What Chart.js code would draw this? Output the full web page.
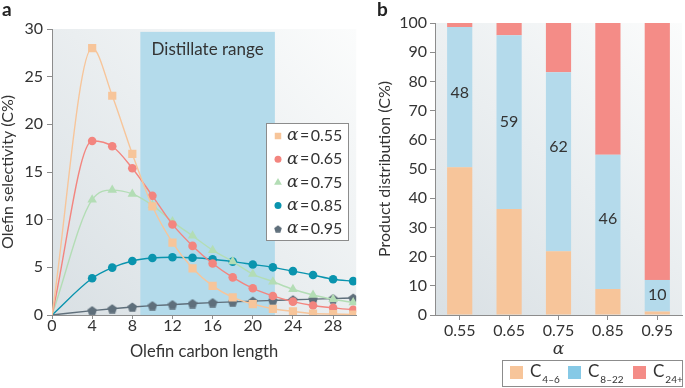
<!DOCTYPE html>
<html>
<head>
<meta charset="utf-8">
<script src="https://cdn.jsdelivr.net/npm/chart.js@4.4.1/dist/chart.umd.min.js"></script>
<style>
  html, body { margin: 0; padding: 0; background: #fff; }
  #wrap { position: relative; width: 685px; height: 388px; }
  #boxA { position: absolute; left: 0; top: 0; width: 362px; height: 388px; }
  #boxB { position: absolute; left: 362px; top: 0; width: 323px; height: 388px; }
</style>
</head>
<body>
<div id="wrap">
  <div id="boxA"><canvas id="chartA"></canvas></div>
  <div id="boxB"><canvas id="chartB"></canvas></div>
</div>
<script>
'use strict';

// panel a: olefin selectivity (C%) vs carbon length
const carbonLength = [0, 4, 6, 8, 10, 12, 14, 16, 18, 20, 22, 24, 26, 28, 30];
const sel055 = [0, 28.0, 23.0, 16.9, 11.4, 7.6, 4.9, 3.05, 1.85, 1.15, 0.65, 0.38, 0.15, 0.1, 0.05];
const sel065 = [0, 18.25, 17.7, 15.4, 12.5, 9.5, 7.25, 5.4, 3.95, 2.8, 2.0, 1.4, 1.0, 0.75, 0.55];
const sel075 = [0, 12.1, 13.1, 12.7, 11.5, 9.8, 8.3, 6.8, 5.6, 4.3, 3.5, 2.7, 2.1, 1.65, 1.3];
const sel085 = [0, 3.85, 4.97, 5.67, 5.98, 6.05, 6.0, 5.85, 5.6, 5.3, 5.0, 4.6, 4.2, 3.75, 3.55];
const sel095 = [0, 0.46, 0.66, 0.84, 0.98, 1.09, 1.2, 1.3, 1.38, 1.46, 1.53, 1.6, 1.66, 1.72, 1.78];
const distillateRange = [8.8, 22.2];

// panel b: product distribution (C%) per alpha
const alphaLabels = ['0.55', '0.65', '0.75', '0.85', '0.95'];
const c4to6 = [50.6, 36.3, 21.8, 8.9, 1.2];
const c8to22 = [48, 59.5, 61.3, 46, 10.8];
const c24plus = [1.4, 4.2, 16.9, 45.1, 88];
const barLabels = ['48', '59', '62', '46', '10'];
const barLabelAt = [76, 66, 57.5, 33, 7];

const textColor = '#333';
const axisColor = '#8c8c8c';
const family = 'Lato, "Open Sans", sans-serif';

function pentagon(color, size) {
  const c = document.createElement('canvas');
  c.width = size; c.height = size;
  const g = c.getContext('2d');
  g.fillStyle = color;
  g.beginPath();
  for (let i = 0; i < 5; i++) {
    const a = -Math.PI / 2 + i * 2 * Math.PI / 5;
    const px = size / 2 + Math.cos(a) * size / 2;
    const py = size / 2 + 0.6 + Math.sin(a) * size / 2;
    if (i === 0) g.moveTo(px, py); else g.lineTo(px, py);
  }
  g.closePath();
  g.fill();
  return c;
}

const seriesA = [
  { label: '0.55', values: sel055, color: '#f7c59a', style: 'rect', radius: 5.8, legendStyle: 'rect', legendRadius: 4.6 },
  { label: '0.65', values: sel065, color: '#f3857f', style: 'circle', radius: 4.3, legendStyle: 'circle', legendRadius: 3.5 },
  { label: '0.75', values: sel075, color: '#b3ddb5', style: 'triangle', radius: 5.5, legendStyle: 'triangle', legendRadius: 4.5 },
  { label: '0.85', values: sel085, color: '#0a94ae', style: 'circle', radius: 4.3, legendStyle: 'circle', legendRadius: 3.5 },
  { label: '0.95', values: sel095, color: '#5f6f7b', style: pentagon('#5f6f7b', 10), radius: 4.5, legendStyle: pentagon('#5f6f7b', 8), legendRadius: 3.5 },
];

function drawAlpha(ctx, x, y, value) {
  ctx.textAlign = 'left';
  ctx.textBaseline = 'middle';
  ctx.fillStyle = textColor;
  ctx.font = 'italic 17px "DejaVu Serif", serif';
  ctx.fillText('α', x, y);
  let cx = x + ctx.measureText('α').width + 1.5;
  ctx.font = `16px ${family}`;
  ctx.fillText('=', cx, y);
  cx += ctx.measureText('=').width + 1.5;
  ctx.fillText(value, cx, y);
}

function plotBackground(ctx, a) {
  const g = ctx.createLinearGradient(a.left, a.bottom, a.right, a.top);
  g.addColorStop(0, '#d9e0e4');
  g.addColorStop(1, '#fbfcfc');
  ctx.fillStyle = g;
  ctx.fillRect(a.left, a.top, a.right - a.left, a.bottom - a.top);
}

const panelA = {
  id: 'panelA',
  beforeDraw(chart) {
    const { ctx, chartArea: a, scales: { x, y } } = chart;
    ctx.save();
    plotBackground(ctx, a);
    const x0 = x.getPixelForValue(distillateRange[0]);
    const x1 = x.getPixelForValue(distillateRange[1]);
    const yt = y.getPixelForValue(29.7);
    ctx.fillStyle = '#b4dbeb';
    ctx.fillRect(x0, yt, x1 - x0, a.bottom - yt);
    ctx.fillStyle = textColor;
    ctx.font = `17px ${family}`;
    ctx.textAlign = 'center';
    ctx.textBaseline = 'middle';
    ctx.fillText('Distillate range', (x0 + x1) / 2, y.getPixelForValue(27.9));
    ctx.restore();
  },
  afterDraw(chart) {
    const { ctx } = chart;
    ctx.save();
    ctx.fillStyle = '#fff';
    ctx.fillRect(267, 124, 82, 117);
    ctx.strokeStyle = axisColor;
    ctx.lineWidth = 1;
    ctx.strokeRect(266.5, 123.5, 82, 117);
    seriesA.forEach((s, i) => {
      const cy = 136 + i * 23.2;
      ctx.fillStyle = s.color;
      Chart.helpers.drawPoint(ctx, { pointStyle: s.legendStyle, radius: s.legendRadius, rotation: 0, borderWidth: 0 }, 278, cy);
      drawAlpha(ctx, 287, cy, s.label);
    });
    ctx.fillStyle = '#222';
    ctx.font = `bold 19px ${family}`;
    ctx.textAlign = 'left';
    ctx.textBaseline = 'top';
    ctx.fillText('a', 2, 0);
    ctx.restore();
  },
};

new Chart(document.getElementById('chartA'), {
  type: 'line',
  data: {
    datasets: seriesA.map(s => ({
      label: s.label,
      data: carbonLength.map((c, i) => ({ x: c, y: s.values[i] })),
      borderColor: s.color,
      backgroundColor: s.color,
      pointBackgroundColor: s.color,
      pointBorderWidth: 0,
      pointStyle: s.style,
      pointRadius: ctx => (ctx.dataIndex === 0 ? 0 : s.radius),
      borderWidth: 1.4,
      cubicInterpolationMode: 'monotone',
      fill: false,
    })),
  },
  options: {
    responsive: true,
    maintainAspectRatio: false,
    animation: false,
    layout: { padding: { left: 0, top: 29, right: 5, bottom: 26 } },
    plugins: { legend: { display: false }, tooltip: { enabled: false } },
    scales: {
      x: {
        type: 'linear',
        min: 0,
        max: 30.3,
        afterFit: s => { s.height = 47; },
        ticks: { stepSize: 4, includeBounds: false, color: textColor, padding: -1, maxRotation: 0,
                 font: { size: 16, family, lineHeight: 1 } },
        grid: { drawOnChartArea: false, tickLength: 4, color: axisColor },
        border: { color: axisColor },
        title: { display: true, text: 'Olefin carbon length', color: textColor, padding: 0,
                 font: { size: 16.5, family, lineHeight: 1.2 } },
      },
      y: {
        min: 0,
        max: 30,
        afterFit: s => { s.width = 52; },
        ticks: { stepSize: 5, color: textColor, padding: 4, font: { size: 16, family, lineHeight: 1 } },
        grid: { drawOnChartArea: false, tickLength: 5, color: axisColor },
        border: { color: axisColor },
        title: { display: true, text: 'Olefin selectivity (C%)', color: textColor, padding: 0,
                 font: { size: 16, family, lineHeight: 1 } },
      },
    },
  },
  plugins: [panelA],
});

const legendB = [
  { base: 'C', sub: '4–6', color: '#f7c59a' },
  { base: 'C', sub: '8–22', color: '#86c9e6' },
  { base: 'C', sub: '24+', color: '#f48c87' },
];

const panelB = {
  id: 'panelB',
  beforeDraw(chart) {
    const { ctx, chartArea: a } = chart;
    ctx.save();
    plotBackground(ctx, a);
    ctx.restore();
  },
  afterDatasetsDraw(chart) {
    const { ctx, scales: { x, y } } = chart;
    ctx.save();
    ctx.fillStyle = textColor;
    ctx.font = `16px ${family}`;
    ctx.textAlign = 'center';
    ctx.textBaseline = 'middle';
    barLabels.forEach((t, i) => {
      ctx.fillText(t, x.getPixelForValue(i), y.getPixelForValue(barLabelAt[i]));
    });
    ctx.restore();
  },
  afterDraw(chart) {
    const { ctx } = chart;
    ctx.save();
    ctx.strokeStyle = axisColor;
    ctx.lineWidth = 1;
    ctx.strokeRect(140.5, 360.5, 180, 26);
    const lefts = [148, 206, 271];
    legendB.forEach((l, i) => {
      const lx = lefts[i];
      ctx.fillStyle = l.color;
      ctx.fillRect(lx, 366, 13, 13);
      ctx.fillStyle = textColor;
      ctx.textAlign = 'left';
      ctx.textBaseline = 'middle';
      ctx.font = `17px ${family}`;
      ctx.fillText(l.base, lx + 20, 372);
      const w = ctx.measureText(l.base).width;
      ctx.font = `10px ${family}`;
      ctx.fillText(l.sub, lx + 21 + w, 380);
    });
    ctx.fillStyle = '#222';
    ctx.font = `bold 19px ${family}`;
    ctx.textAlign = 'left';
    ctx.textBaseline = 'top';
    ctx.fillText('b', 15, 0);
    ctx.restore();
  },
};

new Chart(document.getElementById('chartB'), {
  type: 'bar',
  data: {
    labels: alphaLabels,
    datasets: [
      { label: 'C4–6', data: c4to6, backgroundColor: '#f7c59a' },
      { label: 'C8–22', data: c8to22, backgroundColor: '#b4daeb' },
      { label: 'C24+', data: c24plus, backgroundColor: '#f48c87' },
    ],
  },
  options: {
    responsive: true,
    maintainAspectRatio: false,
    animation: false,
    layout: { padding: { left: 15, top: 23, right: 3, bottom: 30 } },
    datasets: { bar: { categoryPercentage: 1, barPercentage: 0.51, borderWidth: 0 } },
    plugins: { legend: { display: false }, tooltip: { enabled: false } },
    scales: {
      x: {
        stacked: true,
        afterFit: s => { s.height = 43; },
        ticks: { color: textColor, padding: 3, maxRotation: 0, font: { size: 16, family, lineHeight: 1 } },
        grid: { offset: false, drawOnChartArea: false, tickLength: 5, color: axisColor },
        border: { color: axisColor },
        title: { display: true, text: 'α', color: textColor, padding: 0,
                 font: { size: 17, style: 'italic', family: '"DejaVu Serif", serif', lineHeight: 1 } },
      },
      y: {
        stacked: true,
        min: 0,
        max: 100,
        afterFit: s => { s.width = 58; },
        ticks: { stepSize: 10, color: textColor, padding: 3, font: { size: 16, family, lineHeight: 1 } },
        grid: { drawOnChartArea: false, tickLength: 5, color: axisColor },
        border: { color: axisColor },
        title: { display: true, text: 'Product distribution (C%)', color: textColor, padding: 0,
                 font: { size: 16, family, lineHeight: 1 } },
      },
    },
  },
  plugins: [panelB],
});
</script>
</body>
</html>
